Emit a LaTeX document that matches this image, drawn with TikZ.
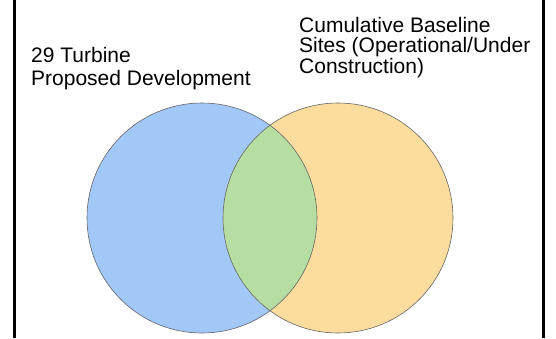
\documentclass[tikz,border=0pt]{standalone}
\usepackage{fontspec}
\setmainfont{Liberation Sans}
\usetikzlibrary{positioning}

\definecolor{setblue}{RGB}{162,200,248}
\definecolor{setorange}{RGB}{253,221,158}
\definecolor{setgreen}{RGB}{182,222,162}

\begin{document}
\begin{tikzpicture}[x=1pt, y=-1pt,
    set/.style={circle, minimum size=230pt, inner sep=0pt},
    rim/.style={draw=black!60, line width=0.6pt},
    label/.style={align=left, anchor=base west, inner sep=0pt}]
  \useasboundingbox (0,0) rectangle (556,338);
  \fill[white] (0,0) rectangle (556,338);
  % side rules
  \draw[line width=3pt] (14.5,0) -- (14.5,338);
  \draw[line width=3pt] (543.5,0) -- (543.5,338);
  % the two sets
  \node (proposed) [set, fill=setblue] at (202,218) {};
  \node (baseline) [set, fill=setorange] at (338,218) {};
  \begin{scope}
    \clip (proposed.center) circle (115pt);
    \fill[setgreen] (baseline.center) circle (115pt);
  \end{scope}
  \draw[rim] (proposed.center) circle (115pt);
  \draw[rim] (baseline.center) circle (115pt);
  % labels (base anchor sits on the last line)
  \node (proposedtext) [label, font=\fontsize{21}{23.5}\selectfont] at (31,85.7)
    {29 Turbine\\Proposed Development};
  \node (baselinetext) [label, font=\fontsize{21}{20.5}\selectfont] at (299,73)
    {Cumulative Baseline\\Sites (Operational/Under\\Construction)};
\end{tikzpicture}
\end{document}
